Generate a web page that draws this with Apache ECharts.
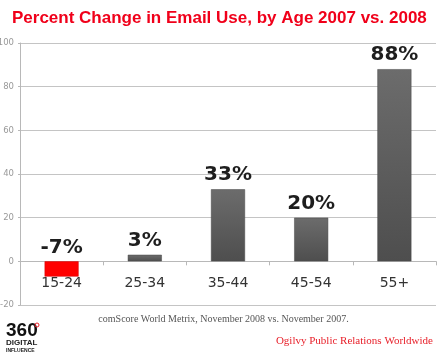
<!DOCTYPE html>
<html><head><meta charset="utf-8">
<script src="https://cdn.jsdelivr.net/npm/echarts@6/dist/echarts.min.js"></script>
<style>html,body{margin:0;padding:0;background:#fff}#c{width:447px;height:360px}</style>
</head><body><div id="c"></div>
<script>
var categories = ['15-24', '25-34', '35-44', '45-54', '55+'];
var values = [-7, 3, 33, 20, 88];
var yTicks = [-20, 0, 20, 40, 60, 80, 100];
var titleText = 'Percent Change in Email Use, by Age 2007 vs. 2008';
var sourceText = 'comScore World Metrix, November 2008 vs. November 2007.';
var creditText = 'Ogilvy Public Relations Worldwide';

var chart = echarts.init(document.getElementById('c'), null, {renderer: 'canvas'});
var grayGrad = new echarts.graphic.LinearGradient(0, 0, 0, 1, [
  {offset: 0, color: '#6c6c6c'}, {offset: 1, color: '#4e4e4e'}]);
var data = values.map(function (v) {
  var item = {value: v};
  if (v < 0) {
    item.itemStyle = {color: '#ff0000', borderColor: '#d00000'};
  }
  return item;
});
var gridTop = 43, gridBottom = 55, H = 360;
var plotH = H - gridTop - gridBottom;
var yMin = yTicks[0], yMax = yTicks[yTicks.length - 1];
var zeroOffset = -plotH * (0 - yMin) / (yMax - yMin);
chart.setOption({
  animation: false,
  title: {
    text: titleText, left: 7, top: 5,
    textStyle: {color: '#f0001a', fontFamily: 'Liberation Sans, Arial, sans-serif', fontWeight: 'bold', fontSize: 17}
  },
  grid: {left: 20, right: 11, top: gridTop, bottom: gridBottom, containLabel: false, outerBoundsMode: 'none'},
  xAxis: {
    type: 'category', data: categories, offset: zeroOffset,
    axisLine: {onZero: false, lineStyle: {color: '#b8b8b8', width: 1}},
    axisTick: {show: true, length: 4, lineStyle: {color: '#b8b8b8'}},
    axisLabel: {color: '#333', fontSize: 14, fontFamily: 'DejaVu Sans, Verdana, sans-serif', margin: 15}
  },
  yAxis: {
    type: 'value', min: yMin, max: yMax, interval: 20,
    axisLine: {show: true, lineStyle: {color: '#b8b8b8'}},
    axisTick: {show: true, length: 2, lineStyle: {color: '#b8b8b8'}},
    axisLabel: {color: '#999', fontSize: 8.5, fontFamily: 'DejaVu Sans, Verdana, sans-serif', margin: 6},
    splitLine: {lineStyle: {color: '#c4c4c4', width: 1}}
  },
  series: [{
    type: 'bar', data: data, barWidth: 34,
    itemStyle: {color: grayGrad, borderColor: '#454545', borderWidth: 0.5},
    label: {
      show: true, position: 'top', distance: 4,
      formatter: function (p) { return p.value + '%'; },
      color: '#1e1e1e', fontSize: 20, fontWeight: 'bold', fontFamily: 'DejaVu Sans, Verdana, sans-serif'
    }
  }],
  graphic: [
    {type: 'text', left: 'center', top: 314, style: {text: sourceText, font: '10px "Liberation Serif", "Times New Roman", serif', fill: '#555'}},
    {type: 'text', right: 14, top: 336, style: {text: creditText, font: '11px "Liberation Serif", "Times New Roman", serif', fill: '#e8202a'}},
    {type: 'text', left: 6, top: 321, style: {text: '360', font: 'bold 19px "Liberation Sans", Arial, sans-serif', fill: '#111'}},
    {type: 'circle', shape: {cx: 37, cy: 325, r: 2}, style: {fill: 'none', stroke: '#e8202a', lineWidth: 1}},
    {type: 'text', left: 6, top: 339, style: {text: 'DIGITAL', font: 'bold 8px "Liberation Sans", Arial, sans-serif', fill: '#222'}},
    {type: 'text', left: 6, top: 348, style: {text: 'INFLUENCE', font: 'bold 5px "Liberation Sans", Arial, sans-serif', fill: '#222'}}
  ]
});
</script></body></html>
